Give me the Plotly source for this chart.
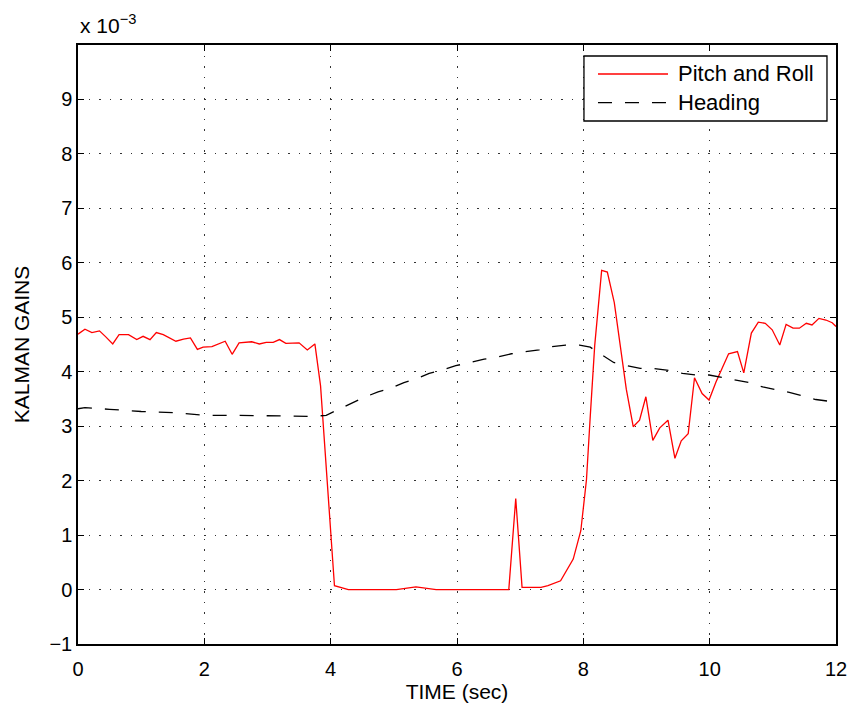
import plotly.graph_objects as go

# Pitch and Roll gains (x1e-3)
pr_t = [0.0, 0.11, 0.22, 0.34, 0.44, 0.55, 0.65, 0.80, 0.93, 1.03, 1.14, 1.24, 1.35, 1.55, 1.67, 1.78,
        1.89, 1.98, 2.12, 2.33, 2.44, 2.55, 2.75, 2.87, 2.98, 3.09, 3.19, 3.29, 3.50, 3.63, 3.75, 3.84,
        4.06, 4.28, 4.60, 5.04, 5.35, 5.67, 6.20, 6.82, 6.93, 7.03, 7.33, 7.44, 7.64, 7.84, 7.96,
        8.05, 8.11, 8.18, 8.29, 8.38, 8.49, 8.68, 8.79, 8.89, 8.99, 9.10, 9.21, 9.34, 9.45, 9.55,
        9.66, 9.76, 9.88, 9.99, 10.10, 10.20, 10.30, 10.44, 10.54, 10.66, 10.77, 10.88, 10.99, 11.11,
        11.21, 11.32, 11.42, 11.53, 11.62, 11.73, 11.84, 11.94, 12.0]
pr_v = [4.69, 4.78, 4.72, 4.75, 4.64, 4.51, 4.68, 4.68, 4.59, 4.65, 4.59, 4.72, 4.68, 4.56, 4.60, 4.62,
        4.41, 4.45, 4.46, 4.56, 4.32, 4.53, 4.55, 4.51, 4.54, 4.54, 4.59, 4.52, 4.53, 4.40, 4.51, 3.74,
        0.07, 0.0, 0.0, 0.0, 0.05, 0.0, 0.0, 0.0, 1.67, 0.04, 0.04, 0.07, 0.16, 0.56, 1.08,
        2.02, 3.19, 4.48, 5.86, 5.83, 5.27, 3.68, 2.99, 3.11, 3.54, 2.74, 2.97, 3.11, 2.41, 2.73,
        2.86, 3.89, 3.60, 3.48, 3.81, 4.08, 4.33, 4.37, 3.98, 4.71, 4.91, 4.89, 4.77, 4.49,
        4.87, 4.80, 4.80, 4.89, 4.86, 4.98, 4.95, 4.90, 4.83]

# Heading gains (x1e-3)
hd_t = [0.0, 0.11, 0.5, 1.0, 1.5, 2.0, 2.5, 3.0, 3.5, 3.71, 3.93, 4.11, 4.35, 4.51, 4.75, 4.93, 5.16,
        5.35, 5.56, 5.77, 5.98, 6.19, 6.43, 6.61, 6.86, 7.04, 7.30, 7.49, 7.72, 7.94, 8.11, 8.28,
        8.48, 8.66, 8.90, 9.05, 9.32, 9.57, 9.78, 9.99, 10.21, 10.42, 10.63, 10.84, 11.10, 11.26,
        11.53, 11.68, 12.0]
hd_v = [3.32, 3.34, 3.31, 3.27, 3.25, 3.20, 3.20, 3.19, 3.18, 3.18, 3.20, 3.30, 3.43, 3.52, 3.63, 3.69, 3.80,
        3.87, 3.97, 4.03, 4.11, 4.17, 4.23, 4.26, 4.33, 4.36, 4.40, 4.46, 4.49, 4.49, 4.45, 4.32,
        4.17, 4.12, 4.06, 4.07, 4.03, 3.97, 3.94, 3.94, 3.89, 3.84, 3.80, 3.72, 3.66, 3.62,
        3.54, 3.49, 3.44]

series_names = ["Pitch and Roll", "Heading"]
x_ticks = [0, 2, 4, 6, 8, 10, 12]
y_ticks = [-1, 0, 1, 2, 3, 4, 5, 6, 7, 8, 9]

FONT = "Liberation Sans, Arial, sans-serif"
RED = "#ff0000"
DASH = "14px,13px"

fig = go.Figure()
fig.add_trace(go.Scatter(x=pr_t, y=pr_v, mode="lines", name=series_names[0], showlegend=False,
                         line=dict(color=RED, width=1.3)))
fig.add_trace(go.Scatter(x=hd_t, y=hd_v, mode="lines", name=series_names[1], showlegend=False,
                         line=dict(color="#000000", width=1.3, dash=DASH)))

axis_common = dict(
    showline=True, linecolor="black", linewidth=1.5, mirror="ticks",
    ticks="inside", ticklen=6, tickcolor="black", tickwidth=1,
    showgrid=True, gridcolor="#333333", gridwidth=1, griddash="1.5px,9px",
    zeroline=False, automargin=False,
    tickfont=dict(family=FONT, size=20, color="black"),
)

fig.update_xaxes(range=[0, 12], tickvals=x_ticks, ticktext=[str(v) for v in x_ticks],
                 ticklabelstandoff=6,
                 title=dict(text="TIME (sec)", font=dict(family=FONT, size=21, color="black"),
                            standoff=6),
                 **axis_common)
fig.update_yaxes(range=[-1, 10], tickvals=y_ticks,
                 ticktext=[("\u2212" + str(-v)) if v < 0 else str(v) for v in y_ticks],
                 title=dict(text="KALMAN GAINS", font=dict(family=FONT, size=21, color="black"),
                            standoff=14),
                 **axis_common)

fig.add_annotation(text="x 10<sup>\u22123</sup>", xref="paper", yref="paper", x=0, y=1.0,
                   xanchor="left", yanchor="bottom", yshift=6, showarrow=False,
                   font=dict(family=FONT, size=21, color="black"))

# Legend box drawn in paper coordinates (MATLAB-style legend)
lx0, lx1, ly0, ly1 = 0.6675, 0.9881, 0.8731, 0.9816
fig.add_shape(type="rect", xref="paper", yref="paper", x0=lx0, x1=lx1, y0=ly0, y1=ly1,
              line=dict(color="black", width=1.3), fillcolor="white", layer="above")
rows = [(0.9516, RED, "solid"), (0.9037, "black", DASH)]
for (yy, col, dsh), name in zip(rows, series_names):
    fig.add_shape(type="line", xref="paper", yref="paper", x0=0.686, x1=0.7784, y0=yy, y1=yy,
                  line=dict(color=col, width=1.3, dash=dsh), layer="above")
    fig.add_annotation(text=name, xref="paper", yref="paper", x=0.789, y=yy,
                       xanchor="left", yanchor="middle", showarrow=False,
                       font=dict(family=FONT, size=22, color="black"))

fig.update_layout(
    width=851, height=706,
    margin=dict(l=78, r=15, t=45, b=62, autoexpand=False),
    paper_bgcolor="white", plot_bgcolor="white",
    font=dict(family=FONT, size=20, color="black"),
    showlegend=False,
)

fig.write_html("out.html")
